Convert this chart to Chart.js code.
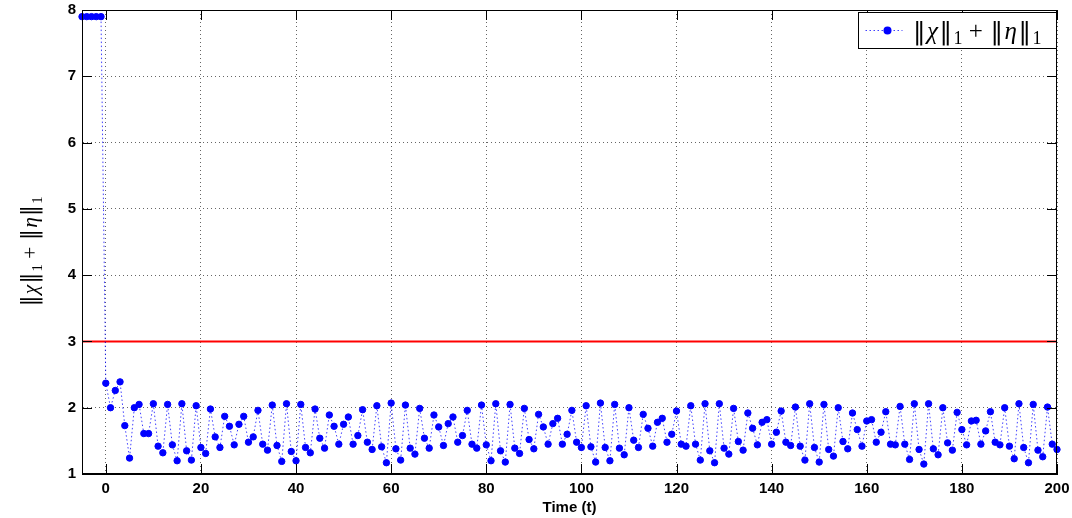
<!DOCTYPE html>
<html>
<head>
<meta charset="utf-8">
<script src="https://cdn.jsdelivr.net/npm/chart.js@4.4.1/dist/chart.umd.min.js"></script>
<style>
html, body { margin: 0; padding: 0; background: #fff; }
#wrap { width: 1072px; height: 518px; }
</style>
</head>
<body>
<div id="wrap"><canvas id="chart"></canvas></div>
<script>
// first time step, values below are one per step
var tStart = -5;
var normValues = [
    7.9, 7.9, 7.9, 7.9, 7.9,
    2.37, 2.00, 2.26, 2.39, 1.73, 1.24, 2.00, 2.05, 1.61, 1.61,
    2.06, 1.42, 1.32, 2.05, 1.44, 1.20, 2.06, 1.35, 1.21, 2.03,
    1.40, 1.31, 1.98, 1.56, 1.40, 1.87, 1.72, 1.44, 1.75, 1.87,
    1.48, 1.56, 1.96, 1.45, 1.36, 2.04, 1.43, 1.19, 2.06, 1.34,
    1.20, 2.05, 1.40, 1.32, 1.98, 1.54, 1.39, 1.89, 1.72, 1.45,
    1.75, 1.86, 1.45, 1.58, 1.97, 1.48, 1.37, 2.03, 1.41, 1.17,
    2.07, 1.38, 1.21, 2.04, 1.39, 1.30, 1.99, 1.54, 1.39, 1.89,
    1.71, 1.43, 1.76, 1.86, 1.48, 1.58, 1.96, 1.45, 1.39, 2.04,
    1.44, 1.20, 2.06, 1.35, 1.18, 2.05, 1.39, 1.31, 1.99, 1.52,
    1.38, 1.90, 1.71, 1.45, 1.76, 1.84, 1.45, 1.60, 1.96, 1.48,
    1.40, 2.03, 1.41, 1.18, 2.07, 1.40, 1.20, 2.05, 1.39, 1.29,
    2.00, 1.51, 1.40, 1.90, 1.69, 1.42, 1.78, 1.84, 1.48, 1.60,
    1.95, 1.45, 1.42, 2.03, 1.45, 1.21, 2.06, 1.35, 1.17, 2.06,
    1.39, 1.30, 1.99, 1.49, 1.36, 1.92, 1.69, 1.44, 1.78, 1.82,
    1.45, 1.63, 1.95, 1.48, 1.43, 2.01, 1.42, 1.21, 2.06, 1.40,
    1.18, 2.05, 1.37, 1.27, 2.00, 1.49, 1.38, 1.92, 1.67, 1.42,
    1.80, 1.82, 1.48, 1.63, 1.94, 1.45, 1.44, 2.02, 1.45, 1.22,
    2.06, 1.37, 1.15, 2.06, 1.38, 1.29, 2.00, 1.47, 1.36, 1.93,
    1.67, 1.44, 1.80, 1.81, 1.45, 1.65, 1.94, 1.48, 1.44, 2.00,
    1.42, 1.23, 2.06, 1.40, 1.17, 2.05, 1.36, 1.26, 2.01, 1.45,
    1.37
];
var threshold = 3;
var xTicks = [0, 20, 40, 60, 80, 100, 120, 140, 160, 180, 200];
var yTicks = [1, 2, 3, 4, 5, 6, 7, 8];
var xRange = [-5, 200];
var yRange = [1, 8];
var seriesLabel = '\u2016\u03C7\u2016\u2081 + \u2016\u03B7\u2016\u2081';
// same label split into pieces: [text, italic, subscript]
var labelParts = [
    ['\u2016', false, false], ['\u03C7', true, false], ['\u2016', false, false], ['1', false, true],
    [' + ', false, false],
    ['\u2016', false, false], ['\u03B7', true, false], ['\u2016', false, false], ['1', false, true]
];

var points = normValues.map((v, i) => ({ x: tStart + i, y: v }));
var limitLine = [{ x: xRange[0], y: threshold }, { x: xRange[1], y: threshold }];

const tickFont = { family: '"Liberation Sans", Arial, sans-serif', size: 15, weight: 'bold' };
const serif = '"Liberation Serif", "DejaVu Serif", serif';

function partFont(p, size) {
    if (p[2]) return Math.round(size * 0.7) + 'px ' + serif;
    if (p[0] === '\u2016') return size + 'px "DejaVu Serif", serif';
    return (p[1] ? 'italic ' : '') + size + 'px ' + serif;
}

// the double bars get a bit of air on both sides, like tex
function partGap(p, size) {
    return p[0] === '\u2016' ? size * 0.06 : 0;
}

function mathWidth(ctx, size) {
    let w = 0;
    labelParts.forEach(p => {
        ctx.font = partFont(p, size);
        w += ctx.measureText(p[0]).width + 2 * partGap(p, size);
    });
    return w;
}

// draws the label from x along the baseline y
function drawMath(ctx, x, y, size) {
    ctx.textBaseline = 'alphabetic';
    ctx.textAlign = 'left';
    labelParts.forEach(p => {
        let g = partGap(p, size);
        ctx.font = partFont(p, size);
        ctx.fillText(p[0], x + g, p[2] ? y + size * 0.22 : y);
        x += ctx.measureText(p[0]).width + 2 * g;
    });
}

// box, inward ticks, y title and legend, matlab style
const framePlugin = {
    id: 'frame',
    afterDraw(chart) {
        let { ctx, chartArea: a, scales } = chart;
        ctx.save();
        ctx.strokeStyle = '#000';
        ctx.lineWidth = 1;
        ctx.setLineDash([]);
        ctx.strokeRect(a.left + 0.5, a.top + 0.5, a.right - a.left - 1, a.bottom - a.top - 1);

        let len = 10;
        ctx.beginPath();
        xTicks.forEach(v => {
            let px = Math.round(scales.x.getPixelForValue(v)) + 0.5;
            ctx.moveTo(px, a.bottom); ctx.lineTo(px, a.bottom - len);
            ctx.moveTo(px, a.top); ctx.lineTo(px, a.top + len);
        });
        yTicks.forEach(v => {
            let py = Math.round(scales.y.getPixelForValue(v)) + 0.5;
            ctx.moveTo(a.left, py); ctx.lineTo(a.left + len, py);
            ctx.moveTo(a.right, py); ctx.lineTo(a.right - len, py);
        });
        ctx.stroke();

        // y axis title
        ctx.fillStyle = '#000';
        let ts = 21.5;
        let tw = mathWidth(ctx, ts);
        ctx.save();
        ctx.translate(37, (a.top + a.bottom) / 2 + 10);
        ctx.rotate(-Math.PI / 2);
        drawMath(ctx, -tw / 2, 0, ts);
        ctx.restore();

        // legend
        let w = 198, h = 36;
        let bx = a.right - w - 0.5, by = a.top + 2.5;
        ctx.fillStyle = '#fff';
        ctx.fillRect(bx, by, w, h);
        ctx.strokeRect(bx, by, w, h);
        let cy = by + h / 2;
        ctx.strokeStyle = 'rgba(0,0,255,0.75)';
        ctx.setLineDash([1.5, 2.5]);
        ctx.beginPath();
        ctx.moveTo(bx + 7, cy); ctx.lineTo(bx + 44, cy);
        ctx.stroke();
        ctx.setLineDash([]);
        ctx.fillStyle = '#0000ff';
        ctx.beginPath();
        ctx.arc(bx + 29, cy, 4, 0, Math.PI * 2);
        ctx.fill();
        ctx.fillStyle = '#000';
        drawMath(ctx, bx + 53, cy + 8, 25);
        ctx.restore();
    }
};

new Chart(document.getElementById('chart').getContext('2d'), {
    type: 'line',
    data: {
        datasets: [{
            label: seriesLabel,
            data: points,
            borderColor: 'rgba(0,0,255,0.75)',
            borderWidth: 1,
            borderDash: [1.5, 2.5],
            pointRadius: 3.2,
            pointBorderWidth: 1,
            pointBackgroundColor: '#0000ff',
            pointBorderColor: '#0000ff',
            tension: 0,
            clip: 8
        }, {
            label: 'bound',
            data: limitLine,
            borderColor: '#ff0000',
            borderWidth: 2,
            pointRadius: 0,
            tension: 0
        }]
    },
    options: {
        responsive: true,
        maintainAspectRatio: false,
        animation: false,
        layout: { padding: { top: 10, right: 15, left: 0, bottom: 0 } },
        plugins: { legend: { display: false }, tooltip: { enabled: false } },
        scales: {
            x: {
                type: 'linear',
                min: xRange[0],
                max: xRange[1],
                afterBuildTicks: s => { s.ticks = xTicks.map(v => ({ value: v })); },
                afterFit: s => { s.height = 44; s.paddingLeft = 0; s.paddingRight = 0; },
                grid: { color: 'rgba(0,0,0,0.6)', lineWidth: 1, drawTicks: false },
                border: { display: true, color: '#000', width: 1, dash: [1, 3] },
                ticks: { color: '#000', font: tickFont, padding: 6, maxRotation: 0, autoSkip: false },
                title: {
                    display: true,
                    text: 'Time (t)',
                    color: '#000',
                    font: { family: '"Liberation Sans", Arial, sans-serif', size: 15, weight: 'bold' },
                    padding: { top: 0, bottom: 1 }
                }
            },
            y: {
                min: yRange[0],
                max: yRange[1],
                afterBuildTicks: s => { s.ticks = yTicks.map(v => ({ value: v })); },
                afterFit: s => { s.width = 82; s.paddingTop = 0; s.paddingBottom = 0; },
                grid: { color: 'rgba(0,0,0,0.6)', lineWidth: 1, drawTicks: false },
                border: { display: true, color: '#000', width: 1, dash: [1, 3] },
                ticks: { color: '#000', font: tickFont, padding: 6 }
            }
        }
    },
    plugins: [framePlugin]
});
</script>
</body>
</html>
